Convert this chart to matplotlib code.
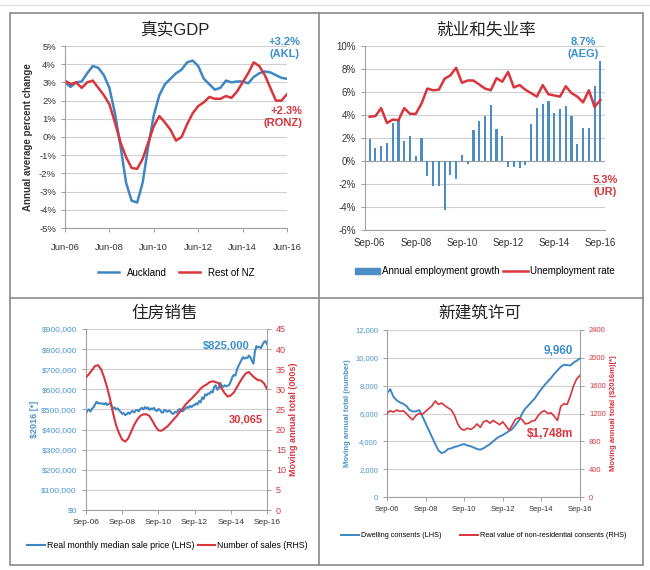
import numpy as np
import matplotlib
matplotlib.use("Agg")
import matplotlib.pyplot as plt
from matplotlib.lines import Line2D
from matplotlib.patches import Patch, Rectangle
from matplotlib.ticker import FuncFormatter

plt.rcParams['font.family'] = ['Liberation Sans', 'Noto Sans CJK SC', 'DejaVu Sans']

# ---- 真实GDP (quarterly, Jun-06 .. Jun-16)
gdp_ticks = ['Jun-06', 'Jun-08', 'Jun-10', 'Jun-12', 'Jun-14', 'Jun-16']
gdp_akl = [3.0, 2.75, 3.0, 3.05, 3.5, 3.9, 3.8, 3.4, 2.7, 1.3, -0.5, -2.5, -3.5, -3.6,
           -2.5, -0.5, 1.2, 2.3, 2.9, 3.2, 3.5, 3.7, 4.1, 4.2, 3.9, 3.2, 2.9, 2.6, 2.7,
           3.1, 3.0, 3.05, 3.05, 2.95, 3.3, 3.5, 3.6, 3.55, 3.4, 3.25, 3.2]
gdp_ronz = [3.1, 2.9, 3.0, 2.7, 3.0, 3.1, 2.7, 2.3, 1.8, 0.8, -0.3, -1.1, -1.7, -1.75,
            -1.2, -0.3, 0.6, 1.15, 0.8, 0.4, -0.2, 0.0, 0.7, 1.3, 1.7, 1.9, 2.2, 2.1,
            2.1, 2.25, 2.15, 2.5, 3.0, 3.5, 4.1, 3.9, 3.4, 2.7, 2.0, 2.0, 2.35]

# ---- 就业和失业率 (quarterly, Sep-06 .. Sep-16)
emp_ticks = ['Sep-06', 'Sep-08', 'Sep-10', 'Sep-12', 'Sep-14', 'Sep-16']
emp_growth = [1.9, 1.1, 1.3, 1.6, 3.3, 3.6, 1.7, 2.2, 0.4, 2.0, -1.3, -2.2, -2.2, -4.3,
              -1.2, -1.6, 0.5, -0.3, 2.7, 3.5, 3.9, 4.9, 2.8, 2.2, -0.55, -0.55, -0.6,
              -0.35, 3.2, 4.6, 5.0, 5.2, 4.2, 4.5, 4.8, 3.9, 1.5, 2.9, 2.9, 6.5, 8.7]
unemp_rate = [3.85, 3.9, 4.6, 3.3, 3.6, 3.55, 4.6, 4.1, 4.1, 5.0, 6.3, 6.15, 6.2, 7.15,
              7.45, 8.1, 6.8, 7.0, 7.0, 6.65, 6.3, 6.15, 7.2, 6.9, 7.75, 6.4, 6.6, 6.2,
              5.9, 5.6, 6.6, 5.8, 5.7, 5.6, 6.5, 5.9, 5.6, 5.1, 6.15, 4.7, 5.3]

# ---- 住房销售 (monthly price, bi-monthly sales, Sep-06 .. Sep-16)
house_ticks = ['Sep-06', 'Sep-08', 'Sep-10', 'Sep-12', 'Sep-14', 'Sep-16']
house_price_k = [480, 495, 500, 490, 505, 510, 525, 538, 530, 532, 528, 530, 525, 532,
                 522, 528, 532, 515, 505, 510, 500, 505, 495, 488, 478, 482, 472, 476,
                 485, 478, 488, 492, 485, 495, 498, 490, 502, 508, 500, 512, 505, 510,
                 498, 505, 500, 508, 496, 492, 502, 498, 486, 484, 498, 494, 488, 495,
                 490, 480, 478, 488, 485, 495, 502, 495, 490, 498, 505, 512, 508, 518,
                 512, 520, 522, 530, 525, 542, 535, 560, 552, 575, 570, 580, 578, 590,
                 585, 612, 620, 598, 605, 632, 618, 612, 620, 615, 618, 622, 640, 660,
                 672, 668, 695, 715, 730, 745, 760, 752, 758, 755, 768, 760, 742, 728,
                 790, 815, 808, 812, 805, 822, 835, 840, 825]
house_sales = [33.0, 33.8, 34.8, 35.8, 36.0, 35.0, 33.0, 30.5, 27.5, 24.0, 21.0, 19.0,
               17.5, 17.0, 17.8, 19.5, 21.2, 22.5, 23.4, 23.8, 23.8, 23.4, 22.2, 20.8,
               19.8, 19.7, 20.2, 20.8, 21.6, 22.5, 23.3, 24.3, 25.2, 26.2, 27.0, 27.7,
               28.5, 29.3, 30.2, 30.8, 31.2, 31.8, 32.0, 31.8, 31.5, 30.2, 29.0, 28.2,
               28.5, 29.2, 30.5, 31.8, 33.0, 34.0, 34.3, 33.5, 32.8, 32.3, 32.2, 31.5, 30.1]

# ---- 新建筑许可 (bi-monthly, Sep-06 .. Sep-16)
cons_ticks = ['Sep-06', 'Sep-08', 'Sep-10', 'Sep-12', 'Sep-14', 'Sep-16']
dwelling = [7450, 7750, 7200, 6950, 6800, 6700, 6550, 6250, 6150, 6150, 6250, 5800,
            5300, 4800, 4300, 3800, 3350, 3150, 3250, 3450, 3500, 3600, 3650, 3750,
            3800, 3700, 3650, 3550, 3450, 3400, 3500, 3650, 3800, 4000, 4200, 4350,
            4450, 4600, 4750, 4900, 5200, 5500, 6000, 6350, 6600, 6850, 7100, 7450,
            7750, 8050, 8300, 8550, 8850, 9100, 9350, 9500, 9480, 9450, 9650, 9800, 9960]
nonres = [1200, 1240, 1220, 1250, 1230, 1240, 1200, 1150, 1110, 1170, 1200, 1190,
          1230, 1270, 1310, 1380, 1330, 1350, 1310, 1280, 1250, 1170, 1050, 980,
          960, 990, 970, 1000, 1050, 1000, 1080, 1100, 1060, 1100, 1070, 1040,
          1080, 1020, 960, 1040, 1120, 1140, 1110, 1050, 1060, 1090, 1100, 1170,
          1220, 1240, 1200, 1210, 1160, 1100, 1300, 1340, 1330, 1450, 1600, 1700, 1748]

W, H = 650, 570
BLUE = '#3f87c4'
RED = '#d8353c'
BAR = '#4c8dc6'
GRID = '#cfcfcf'
AX = '#a0a0a0'
TXT = '#333333'

fig = plt.figure(figsize=(W / 100, H / 100), dpi=100)


def px_axes(x0, y0, x1, y1):
    return fig.add_axes([x0 / W, 1 - y1 / H, (x1 - x0) / W, (y1 - y0) / H])


def ftext(x, y, s, **kw):
    fig.text(x / W, 1 - y / H, s, **kw)


def style(ax, fs=6.5):
    for s in ['top', 'right']:
        ax.spines[s].set_visible(False)
    ax.spines['left'].set_color(AX)
    ax.spines['bottom'].set_color(AX)
    ax.grid(axis='y', color=GRID, lw=0.8)
    ax.set_axisbelow(True)
    ax.tick_params(labelsize=fs, colors=TXT, length=3, color=AX, width=0.7)


# frame lines
fig.add_artist(Rectangle((10 / W, 1 - 565 / H), 633 / W, 552 / H, transform=fig.transFigure,
                         fill=False, ec='#8a8a8a', lw=1.2))
fig.add_artist(Line2D([319 / W, 319 / W], [1 - 565 / H, 1 - 13 / H], transform=fig.transFigure,
                      color='#8a8a8a', lw=1.2))
fig.add_artist(Line2D([10 / W, 643 / W], [1 - 298 / H, 1 - 298 / H], transform=fig.transFigure,
                      color='#8a8a8a', lw=1.2))
fig.add_artist(Line2D([0, 1], [1 - 5 / H, 1 - 5 / H], transform=fig.transFigure,
                      color='#e2e2e2', lw=1))

# ---------- panel 1
ax = px_axes(65, 46, 287, 228)
style(ax, 6.8)
q = np.arange(len(gdp_akl))
ax.plot(q, gdp_akl, color=BLUE, lw=1.8, label='Auckland')
ax.plot(q, gdp_ronz, color=RED, lw=1.8, label='Rest of NZ')
ax.set_xlim(0, 40)
ax.set_ylim(-5, 5)
ax.set_yticks(range(-5, 6))
ax.set_yticklabels([f'{v}%' for v in range(-5, 6)])
ax.set_xticks(range(0, 41, 8))
ax.set_xticklabels(gdp_ticks)
ax.tick_params(axis='x', pad=8)
ax.set_ylabel('Annual average percent change', fontsize=7, fontweight='bold', color=TXT, labelpad=4)
ax.legend(loc='upper center', bbox_to_anchor=(0.5, -0.17), ncol=2, frameon=False, fontsize=7,
          handlelength=2.2, columnspacing=1.2)
ftext(175, 30, '真实GDP', fontsize=12, ha='center', va='center', color='#222222')
ftext(300, 37, '+3.2%\n(AKL)', fontsize=8, fontweight='bold', color='#3a8fd0', ha='right', va='top')
ftext(302, 106, '+2.3%\n(RONZ)', fontsize=8, fontweight='bold', color=RED, ha='right', va='top')

# ---------- panel 2
ax = px_axes(365, 46, 605, 230)
style(ax, 7)
q = np.arange(len(emp_growth))
ax.bar(q, emp_growth, width=0.38, color=BAR, label='Annual employment growth', zorder=2)
ax.plot(q, unemp_rate, color=RED, lw=1.8, label='Unemployment rate', zorder=3)
ax.axhline(0, color=AX, lw=0.8, zorder=1)
ax.set_xlim(-0.8, 40.8)
ax.set_ylim(-6, 10)
ax.set_yticks(range(-6, 11, 2))
ax.set_yticklabels([f'{v}%' for v in range(-6, 11, 2)])
ax.set_xticks(range(0, 41, 8))
ax.set_xticklabels(emp_ticks)
ax.tick_params(axis='x', length=0, pad=6)
ax.legend(handles=[Patch(color=BAR, label='Annual employment growth'),
                   Line2D([], [], color=RED, lw=1.8, label='Unemployment rate')],
          loc='upper center', bbox_to_anchor=(0.5, -0.15), ncol=2, frameon=False, fontsize=7,
          handlelength=2.6, handleheight=0.5, columnspacing=0.3, handletextpad=0.2)
ftext(486, 30, '就业和失业率', fontsize=12, ha='center', va='center', color='#222222')
ftext(583, 37, '8.7%\n(AEG)', fontsize=8, fontweight='bold', color='#3a8fd0', ha='center', va='top')
ftext(605, 175, '5.3%\n(UR)', fontsize=8, fontweight='bold', color=RED, ha='center', va='top')

# ---------- panel 3
ax = px_axes(86, 329, 267, 510)
style(ax, 6)
ax2 = ax.twinx()
m = np.arange(len(house_price_k))
ax.plot(m, np.array(house_price_k) * 1000, color=BLUE, lw=1.5)
ax2.plot(np.arange(0, 121, 2), house_sales, color=RED, lw=1.5)
ax.set_xlim(0, 120)
ax.set_ylim(0, 900000)
ax.set_yticks(range(0, 900001, 100000))
ax.yaxis.set_major_formatter(FuncFormatter(lambda v, p: f'${v:,.0f}'))
ax.tick_params(axis='y', colors='#4a95cc', length=3, color=AX)
ax2.set_ylim(0, 45)
ax2.set_yticks(range(0, 46, 5))
ax2.tick_params(labelsize=6.5, colors=RED, length=3, color=AX, width=0.7)
for s in ['top', 'left', 'bottom']:
    ax2.spines[s].set_visible(False)
ax2.spines['right'].set_color(AX)
ax.set_xticks(range(0, 121, 24))
ax.set_xticklabels(house_ticks)
ax.set_ylabel('$2016 [*]', fontsize=6.5, fontweight='bold', color='#4a95cc', labelpad=2)
ax2.set_ylabel('Moving annual total (000s)', fontsize=6.5, fontweight='bold', color=RED, labelpad=2)
ax.legend(handles=[Line2D([], [], color=BLUE, lw=1.5, label='Real monthly median sale price (LHS)'),
                   Line2D([], [], color=RED, lw=1.5, label='Number of sales (RHS)')],
          loc='upper center', bbox_to_anchor=(0.45, -0.13), ncol=2, frameon=False, fontsize=6.3,
          handlelength=2.0, columnspacing=0.4, handletextpad=0.2)
ftext(165, 313, '住房销售', fontsize=12, ha='center', va='center', color='#222222')
ftext(250, 345, '$825,000', fontsize=8, fontweight='bold', color='#3a8fd0', ha='right', va='center')
ftext(263, 420, '30,065', fontsize=8, fontweight='bold', color=RED, ha='right', va='center')

# ---------- panel 4
ax = px_axes(387, 330, 580, 497)
style(ax, 5.5)
ax2 = ax.twinx()
m = np.arange(0, 121, 2)
ax.plot(m, dwelling, color=BLUE, lw=1.4)
ax2.plot(m, nonres, color=RED, lw=1.2)
ax.set_xlim(0, 120)
ax.set_ylim(0, 12000)
ax.set_yticks(range(0, 12001, 2000))
ax.yaxis.set_major_formatter(FuncFormatter(lambda v, p: f'{v:,.0f}'))
ax.tick_params(axis='y', colors='#4a95cc', length=3, color=AX)
ax2.set_ylim(0, 2400)
ax2.set_yticks(range(0, 2401, 400))
ax2.tick_params(labelsize=5.5, colors=RED, length=3, color=AX, width=0.7)
for s in ['top', 'left', 'bottom']:
    ax2.spines[s].set_visible(False)
ax2.spines['right'].set_color(AX)
ax.set_xticks(range(0, 121, 24))
ax.set_xticklabels(cons_ticks)
ax.set_ylabel('Moving annual total (number)', fontsize=5.5, fontweight='bold', color='#4a95cc', labelpad=3)
ax2.set_ylabel('Moving annual total ($2016m)[*]', fontsize=5.5, fontweight='bold', color=RED, labelpad=3)
ax.legend(handles=[Line2D([], [], color=BLUE, lw=1.4, label='Dwelling consents (LHS)'),
                   Line2D([], [], color=RED, lw=1.4, label='Real value of non-residential consents (RHS)')],
          loc='upper center', bbox_to_anchor=(0.5, -0.17), ncol=2, frameon=False, fontsize=5.3,
          handlelength=2.5, columnspacing=2.5, handletextpad=0.2)
ftext(480, 313, '新建筑许可', fontsize=12, ha='center', va='center', color='#222222')
ftext(573, 351, '9,960', fontsize=8.5, fontweight='bold', color='#3a8fd0', ha='right', va='center')
ftext(573, 434, '$1,748m', fontsize=8.5, fontweight='bold', color=RED, ha='right', va='center')

fig.savefig('out.png', dpi=100, facecolor='white')
